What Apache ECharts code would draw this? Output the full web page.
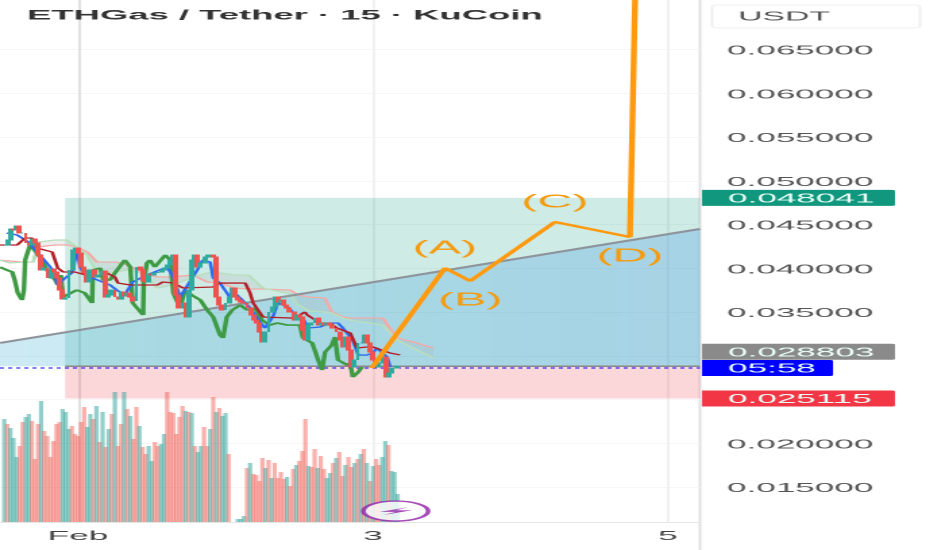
<!DOCTYPE html>
<html><head><meta charset="utf-8">
<style>html,body{margin:0;padding:0;background:#fff;overflow:hidden}
#c{position:absolute;left:0;top:0;transform-origin:0 0}</style>
<script src="https://cdn.jsdelivr.net/npm/echarts@6/dist/echarts.min.js"></script>
</head><body><div id="c"></div>
<script>
const chartTitle = "ETHGas / Tether · 15 · KuCoin";
const currency = "USDT";
// x values are hours since 1 Feb 00:00
const xTickHours = [0, 48, 96];
const xTickLabels = ["Feb", "3", "5"];
const priceGrid = [0.065,0.06,0.055,0.05,0.045,0.04,0.035,0.03,0.025,0.02,0.015];
const priceLabels = [0.065,0.06,0.055,0.05,0.045,0.04,0.035,0.02,0.015];
const slotStartHour = -12, slotHours = 0.5;
const closes = [.04266,.04323,.04449,.04437,.04483,.04403,.04403,.04289,.04266,.04334,.04289,.04151,.03980,.04003,.03888,.03991,.03957,.03888,.03751,.03648,.03660,.03980,.04209,.04231,.04174,.04014,.03946,.03843,.03980,.03900,.03923,.03923,.03968,.03671,.03694,.03751,.03671,.03648,.03728,.03683,.03717,.03671,.03626,.04014,.03980,.03854,.03843,.03934,.03923,.03946,.03957,.03980,.04003,.04037,.04094,.04151,.03694,.03546,.03603,.03443,.03751,.04094,.04151,.04014,.04060,.04128,.04151,.04151,.04128,.03671,.03580,.03523,
.03603,.03671,.03774,.03671,.03637,.03614,.03603,.03546,.03466,.03408,.03374,.03271,.03157,.03271,.03500,.03557,.03671,.03614,.03637,.03580,.03546,.03500,.03408,.03466,.03443,.03294,.03180,.03351,.03374,.03431,.03351,.03374,.03351,.03374,.03351,.03317,.03271,.03180,.03100,.03214,.03065,.02871,.02951,.03146,.03146,.03237,.03146,.03043,.02951,.02871,.02917,.02985,.02757,.02803,.02860,.02860,.02883];
const volumes = [103,98,94,84,65,76,100,105,108,101,63,98,121,91,86,65,81,98,100,113,110,93,96,88,86,100,115,95,108,103,116,80,110,75,93,108,130,76,98,130,113,106,83,115,96,75,68,76,61,80,76,78,88,130,110,109,88,105,116,111,110,109,76,70,76,95,76,93,125,110,
114,106,109,68,0,0,3,3,6,
54,59,48,47,41,64,54,62,44,59,44,50,43,45,36,53,57,61,71,103,56,55,73,54,66,53,44,49,59,64,70,46,57,65,55,59,63,68,73,59,41,56,63,57,65,81,77,51,50,28];
const volumeSide = ("grgggrrggr"+"rrgrrrrrrg"+"ggrrrrrggr"+"grgrgrgrrg"+"rgrrgrrggr"+"rggrrrrrrg"+"rgrggrrgrg"+"rggr"+"ggggg"+"rgrrrrgrgr"+"rrrgrrgrrr"+"grrgrrggrg"+"rrgrrgrgrg"+"rgrrggrggg").split("");
const lagHours = [-12.7,-11.6,-10.7,-10.3,-9.8,-9.1,-8.8,-8.6,-7.8,-6.7,-5.9,-4.6,-3.7,-3.3,-2.8,-2.4,-1.8,-0.2,1.1,2.3,2.4,3.6,4.1,5.2,6.0,7.6,8.5,8.9,10.6,10.7,11.2,11.7,12.5,14.2,15.0,15.5,16.6,17.4,18.5,19.9,21.0,22.0,23.1,23.6,24.2,25.1,26.4,27.5,28.8,29.9,31.2,32.4,34.0,36.1,36.6,38.1,38.9,39.7,40.2,41.3,41.8,42.3,43.8,44.3,44.7,45.6,46.2];
const lagPrices = [.04014,.03980,.03957,.03866,.03717,.03637,.03751,.04094,.04266,.04174,.04094,.03923,.03866,.03809,.03923,.03671,.03660,.03751,.03717,.03603,.03980,.04003,.03866,.03866,.03946,.04094,.04014,.03603,.03466,.03843,.04060,.04094,.04014,.04151,.04094,.03717,.03546,.03751,.03694,.03637,.03523,.03443,.03237,.03203,.03443,.03523,.03580,.03523,.03546,.03408,.03351,.03374,.03351,.03351,.03203,.03146,.02985,.02837,.03043,.03123,.03214,.02951,.02894,.02917,.02757,.02814,.02871];
const kijunHours = [-12.7,-9.9,-8.6,-7.5,-6.7,-4.2,-3.3,-2.4,-0.5,2.4,4.7,6.0,6.5,8.5,12.9,13.8,15.5,17.1,22.0,23.1,27.2,28.0,28.5,30.1,34.8,36.1,36.9,37.3,39.4,41.0,42.1,44.3,45.4,47.0,48.0,50.8,52.4];
const kijunPrices = [.04266,.04266,.04346,.04346,.04231,.04186,.04003,.03957,.03957,.03900,.03946,.03900,.03831,.03809,.03809,.03843,.03831,.03774,.03786,.03831,.03831,.03717,.03603,.03443,.03431,.03466,.03500,.03466,.03374,.03374,.03317,.03260,.03088,.03100,.03100,.03031,.03009];
const tenkanHours = [-11.6,-9.9,-8.1,-7.3,-5.9,-4.1,-3.3,-2.1,-1.0,-0.5,0,0.3,1.1,5.2,6.3,7.6,8.9,11.2,14.5,15.5,16.6,19.4,20.3,21.5,22.0,23.1,24.7,25.5,26.4,28.0,29.6,30.4,31.7,32.5,33.2,34.2,35.6,36.6,37.4,39.4,41.0,42.3,43.1,44.7,45.6,47.0,48.0,48.6,50.3,50.8];
const tenkanPrices = [.04403,.04380,.04300,.04289,.04128,.03980,.03809,.03888,.03946,.04094,.04174,.04014,.03923,.03809,.03751,.03694,.03843,.03923,.04014,.03900,.03671,.03980,.04094,.04071,.03888,.03831,.03671,.03717,.03660,.03546,.03386,.03317,.03443,.03603,.03614,.03557,.03443,.03431,.03317,.03329,.03374,.03374,.03317,.03180,.03008,.03008,.03031,.03089,.02985,.02871];
const cloudHours = [-12.7,-11.1,-8.9,-7.3,-6.5,-3.7,-1.8,-0.2,1.5,3.1,6.3,8.0,10.6,12.9,15.5,18.7,21.0,23.1,25.5,27.7,30.1,34.5,35.8,37.7,40.2,41.3,43.1,44.3,49.6,51.9,54.5,57.8];
const cloudRed = [.04094,.04083,.04071,.04071,.04243,.04266,.04266,.04243,.04186,.04071,.04071,.04037,.03946,.03900,.03900,.03923,.03843,.03831,.03774,.03763,.03763,.03751,.03694,.03671,.03660,.03500,.03443,.03431,.03431,.03203,.03157,.03088];
const cloudGreen = [.04094,.04060,.04071,.04071,.04300,.04323,.04323,.04243,.04151,.03946,.03957,.03980,.03934,.03774,.03809,.03900,.03946,.03946,.03923,.03923,.03774,.03706,.03580,.03511,.03500,.03489,.03431,.03408,.03351,.03180,.03088,.02974];
const waveHours = [47.8,59.7,63.8,77.6,89.8,90.7];
const wavePrices = [.0286,.04003,.03854,.04529,.04357,.0730];
const waveLabels = ["","(A)","(B)","(C)","(D)",""];
const trendHours = [-12.7,101.2];
const trendPrices = [.03146,.04449];
const targetPrice = 0.048041, entryPrice = 0.028803, stopPrice = 0.025115, lastPrice = 0.0286;
const boxStartHour = -2.1;
const tagPrices = [0.048041,0.028803,0.0286,0.025115];
const tagTexts = ["0.048041","0.028803","05:58","0.025115"];
const tagColors = ["#10977e","#8a8a8a","#0000ff","#f23645"];
const tagShift = [0,-14.5,0,0];
const tagWide = [true,true,false,true];
const eventHour = 51.7, eventPrice = 0.01225;

const S = 2.7, W = 932/S, H = 550;
const el = document.getElementById('c');
el.style.width = W+'px'; el.style.height = H+'px'; el.style.transform = 'scaleX('+S+')';
const chart = echarts.init(el, null, {width:W, height:H, devicePixelRatio:2});
const FONT = '"Liberation Sans", Arial, sans-serif';
const xMin = -12.69, xMax = 101.2, yMin = 0.011, yMax = 0.07066;
const pairs = (xs, ys) => xs.map((x,i)=>[x,ys[i]]);
const slotX = i => slotStartHour + i*slotHours;
const candles = closes.map((c,i)=>{const o = i? closes[i-1]:c; return [slotX(i),o,c,Math.min(o,c),Math.max(o,c)];});
const volData = volumes.map((v,i)=>({value:[slotX(i),v],itemStyle:{color:volumeSide[i]==='g'?'rgba(40,160,150,.5)':'rgba(240,90,80,.47)'}}));
const polygon = (pts, fill) => ({
  type:'custom', silent:true, clip:false, data:[[0,0]], z:2,
  renderItem:(p,api)=>({type:'polygon', shape:{points:pts.map(q=>api.coord(q))}, style:{fill}})
});
const line = (data,color,width,z,extra) => Object.assign({type:'line',data,symbol:'none',silent:true,z,lineStyle:{color,width},animation:false},extra||{});
const wedgeFill = {type:'linear',x:0,y:0,x2:1,y2:0,colorStops:[{offset:0,color:'rgba(70,180,215,.27)'},{offset:1,color:'rgba(85,160,230,.32)'}]};

const option = {
  animation:false,
  title:{text:chartTitle,left:27/S-5,top:4,textStyle:{fontFamily:FONT,fontSize:13.5,fontWeight:'bold',color:'#333'}},
  grid:{left:0,top:0,width:700/S,height:522},
  xAxis:{type:'value',min:xMin,max:xMax,
    axisLine:{show:true,onZero:false,lineStyle:{color:'#e6e6e6',width:1}},
    axisTick:{show:false,customValues:xTickHours},
    splitLine:{show:true,lineStyle:{color:'#f1f1f1',width:1}},
    axisLabel:{customValues:xTickHours,margin:8,color:'#444',fontFamily:FONT,fontSize:13,
      formatter:v=>xTickLabels[xTickHours.indexOf(v)]}},
  yAxis:[{type:'value',position:'right',min:yMin,max:yMax,
      axisLine:{show:true,lineStyle:{color:'#e0e0e0',width:1}},
      axisTick:{show:false,customValues:priceGrid},
      splitLine:{show:true,lineStyle:{color:'#f6f6f6',width:1}},
      axisLabel:{customValues:priceLabels,margin:10,color:'#555',fontFamily:FONT,fontSize:13,align:'left',verticalAlign:'top',lineHeight:3,
        formatter:v=>v.toFixed(6)}},
    {type:'value',min:0,max:522,show:false}],
  graphic:[
    {type:'rect',shape:{x:712/S,y:5,width:208/S,height:23,r:2},style:{fill:'#fff',stroke:'#f0f0f0',lineWidth:1},silent:true},
    {type:'text',x:738/S,y:17,style:{text:currency,font:'12.5px '+FONT,fill:'#555',textVerticalAlign:'middle'},silent:true},
    {type:'line',shape:{x1:700/S,y1:0,x2:700/S,y2:550},style:{stroke:'#e0e0e0',lineWidth:1},silent:true}
  ],
  series:[
    {type:'bar',yAxisIndex:1,data:volData,barWidth:1.6,silent:true,z:1,large:false},
    line([[boxStartHour,entryPrice],[xMax,entryPrice]],'#8a8a8a',1.5,3,{
      markArea:{silent:true,z:1,data:[
        [{coord:[boxStartHour,targetPrice],itemStyle:{color:'rgba(8,153,129,.2)'}},{coord:[xMax,entryPrice]}],
        [{coord:[boxStartHour,entryPrice],itemStyle:{color:'rgba(242,54,69,.2)'}},{coord:[xMax,stopPrice]}]
      ]}}),
    polygon([[trendHours[0],trendPrices[0]],[trendHours[1],trendPrices[1]],[trendHours[1],entryPrice],[trendHours[0],entryPrice]],wedgeFill),
    polygon(pairs(cloudHours,cloudRed).concat(pairs(cloudHours,cloudGreen).reverse()),'rgba(170,170,170,.2)'),
    line(pairs(cloudHours,cloudRed),'#f4a9a6',1.2,4),
    line(pairs(cloudHours,cloudGreen),'#b8dfbc',1.2,4),
    line(pairs(trendHours,trendPrices),'#8d949c',2,5),
    line([[xMin,lastPrice],[xMax,lastPrice]],'#0000ff',1,6,{lineStyle:{color:'#0000ff',width:1,type:[1.5,1.5]}}),
    line(pairs(lagHours,lagPrices),'#3f9a44',1.7,7),
    line(pairs(tenkanHours,tenkanPrices),'#2f6bf0',1.3,8),
    line(pairs(kijunHours,kijunPrices),'#b3202a',1.3,8),
    {type:'candlestick',data:candles,encode:{x:0,y:[1,2,3,4]},barWidth:1.4,silent:true,z:9,
      itemStyle:{color:'#2faa9c',color0:'#ef5350',borderColor:'#2faa9c',borderColor0:'#ef5350',borderWidth:1}},
    {type:'line',data:waveHours.map((h,i)=>({value:[h,wavePrices[i]],
        symbol:waveLabels[i]?'circle':'none',symbolSize:1,
        label:{show:!!waveLabels[i],formatter:waveLabels[i],position:i%2?'top':'bottom',distance:10,
          color:'#f39c12',fontFamily:FONT,fontSize:18}})),
      showAllSymbol:true,z:10,silent:true,itemStyle:{color:'#ff9a10'},lineStyle:{color:'#ff9a10',width:2.2},animation:false},
    {type:'scatter',data:[[eventHour,eventPrice]],symbol:'circle',symbolSize:[24,20],silent:true,z:11,clip:false,
      itemStyle:{color:'#fff',borderColor:'#8e1fa8',borderWidth:1.6}},
    {type:'scatter',data:[[eventHour,eventPrice]],symbol:'path://M9 0 L0 6 L5 6 L1 10 L10 4 L5 4 Z',symbolSize:[12,8],silent:true,z:12,clip:false,
      itemStyle:{color:'#8e1fa8'}},
    {type:'custom',silent:true,clip:false,z:13,data:tagPrices.map((p,i)=>[i,p]),
      encode:{x:-1,y:1},
      renderItem:(params,api)=>{
        const i = api.value(0);
        const pt = api.coord([xMax,tagPrices[i]]);
        const cy = pt[1]+tagShift[i];
        return {type:'group',children:[
          {type:'rect',shape:{x:702/S,y:cy-8,width:(tagWide[i]?193:131)/S,height:16,r:[0,1,1,0]},style:{fill:tagColors[i]}},
          {type:'text',x:728/S,y:cy+1,style:{text:tagTexts[i],font:'13px '+FONT,fill:'#eafff8',textVerticalAlign:'middle'}}
        ]};
      }}
  ]
};
chart.setOption(option);
</script></body></html>
